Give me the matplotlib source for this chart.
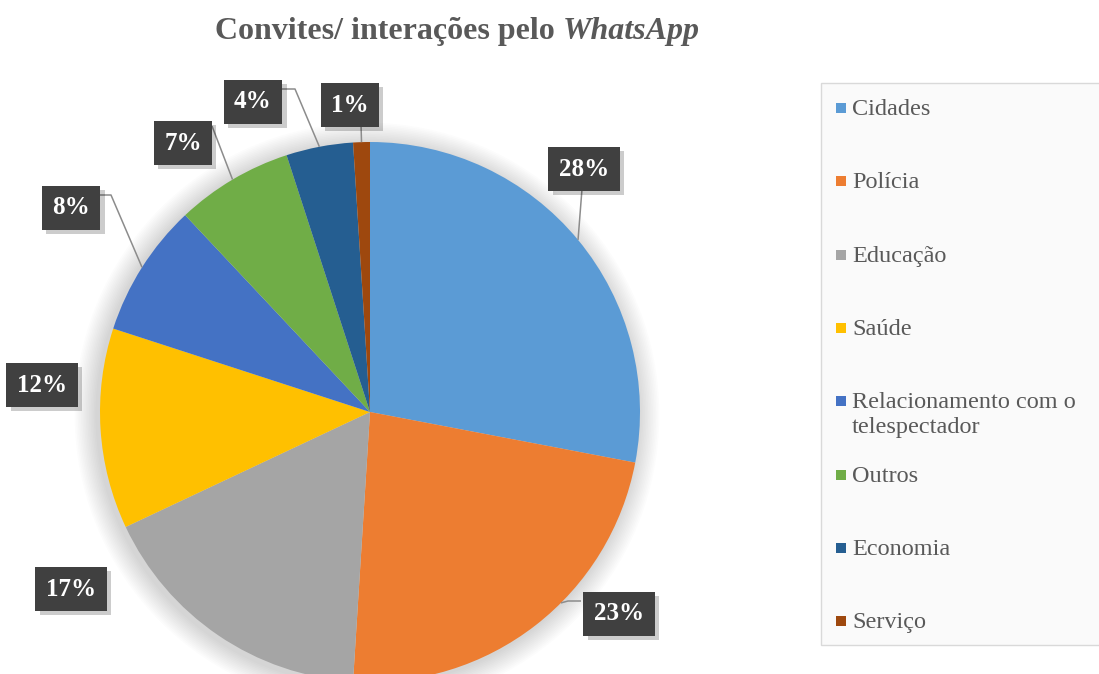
import matplotlib
matplotlib.use("Agg")
import matplotlib.pyplot as plt
from matplotlib.patches import Circle, Rectangle
import matplotlib.patheffects as pe
import numpy as np

# ---- data ----
categories = ["Cidades", "Polícia", "Educação", "Saúde",
              "Relacionamento com o\ntelespectador", "Outros", "Economia", "Serviço"]
values = [28, 23, 17, 12, 8, 7, 4, 1]
labels = ["28%", "23%", "17%", "12%", "8%", "7%", "4%", "1%"]
colors = ["#5B9BD5", "#ED7D31", "#A5A5A5", "#FFC000",
          "#4472C4", "#70AD47", "#255E91", "#9E480E"]
title_plain = "Convites/ interações pelo "
title_italic = "WhatsApp"

# ---- layout (image pixel coords, y down) ----
W, H = 1099, 674
CX, CY, R = 370, 412, 270
label_pos = [(584, 169), (619, 614), (71, 589), (42, 385),
             (71, 208), (183, 143), (253, 102), (350, 105)]
leaders = [
    ([(582, 189)], None),
    ([(581, 601), (568, 601)], -45.0),
    (None, None),
    (None, None),
    ([(99, 195), (111, 195)], None),
    ([(212, 126)], None),
    ([(282, 89), (295, 89)], None),
    ([(361, 124)], None),
]

fig = plt.figure(figsize=(W / 100, H / 100), dpi=100)
ax = fig.add_axes([0, 0, 1, 1])

def Y(y):
    return H - y

# soft shadow behind pie
for k in range(14, 0, -1):
    ax.add_patch(Circle((CX - 3, Y(CY) - 3), R + k * 1.6, facecolor="#000000",
                        alpha=0.013, edgecolor="none", zorder=0))

wedges, _ = ax.pie(values, colors=colors, startangle=90, counterclock=False,
                   center=(CX, Y(CY)), radius=R,
                   wedgeprops=dict(linewidth=0, edgecolor="none"))
for w in wedges:
    w.set_zorder(2)

ax.set_xlim(0, W)
ax.set_ylim(0, H)
ax.set_aspect("auto")
ax.axis("off")

# mid angles
total = sum(values)
cum = 0
mids = []
for v in values:
    a0 = 90 - 360 * cum / total
    a1 = 90 - 360 * (cum + v) / total
    mids.append((a0 + a1) / 2)
    cum += v

# leader lines
for i, (pts, ang) in enumerate(leaders):
    if pts is None:
        continue
    a = np.deg2rad(ang if ang is not None else mids[i])
    ex, ey = CX + R * np.cos(a), Y(CY) + R * np.sin(a)
    xs = [p[0] for p in pts] + [ex]
    ys = [Y(p[1]) for p in pts] + [ey]
    ax.plot(xs, ys, color="#8c8c8c", lw=1.1, zorder=3, solid_capstyle="butt")

# data labels
for (lx, ly), txt in zip(label_pos, labels):
    t = ax.text(lx, Y(ly), txt, ha="center", va="center", fontsize=18,
                fontweight="bold", family="Liberation Serif", color="white",
                bbox=dict(boxstyle="square,pad=0.42", facecolor="#404040",
                          edgecolor="none"), zorder=5)
    t.get_bbox_patch().set_path_effects(
        [pe.SimplePatchShadow(offset=(3, -3), shadow_rgbFace="#000000", alpha=0.2),
         pe.Normal()])

# title
fig.canvas.draw()
renderer = fig.canvas.get_renderer()
tp = ax.text(0, 0, title_plain, fontsize=23, fontweight="bold",
             family="Liberation Serif", color="#595959", va="center", ha="left")
ti = ax.text(0, 0, title_italic, fontsize=23, fontweight="bold", style="italic",
             family="Liberation Serif", color="#595959", va="center", ha="left")
wp = tp.get_window_extent(renderer).width
wi = ti.get_window_extent(renderer).width
x0 = 457 - (wp + wi) / 2
tp.set_position((x0, Y(31)))
ti.set_position((x0 + wp, Y(31)))

# legend box
ax.add_patch(Rectangle((821, Y(645)), 300, 645 - 83, facecolor="#fafafa",
                       edgecolor="#d9d9d9", lw=1, zorder=1))
step = 73.3
for i, (cat, col) in enumerate(zip(categories, colors)):
    yy = 108 + i * step
    ax.add_patch(Rectangle((836, Y(yy) - 5), 10, 10, facecolor=col,
                           edgecolor="none", zorder=2))
    ax.text(852, Y(yy) + 9, cat, fontsize=17.5, family="Liberation Serif",
            color="#595959", ha="left", va="top", linespacing=1.22, zorder=2)

fig.savefig("out.png", dpi=100)
